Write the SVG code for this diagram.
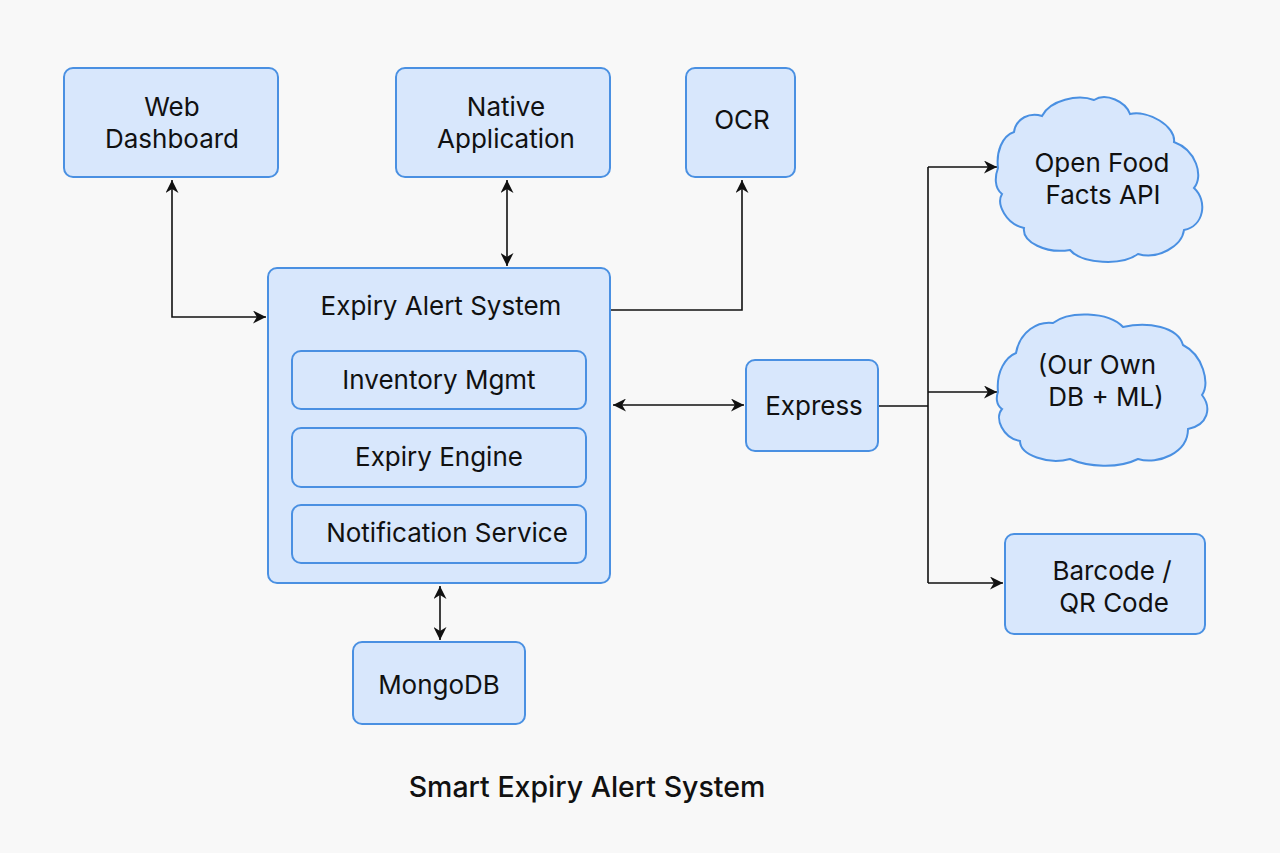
<svg xmlns="http://www.w3.org/2000/svg" width="1280" height="853" viewBox="0 0 1280 853">
<defs>
<style>
.box{fill:#d8e7fc;stroke:#4a90e2;stroke-width:2}
.t{font-family:Inter,"Noto Sans","DejaVu Sans",sans-serif;font-size:26px;fill:#111;text-anchor:middle}
.c{fill:none;stroke:#111;stroke-width:1.6}
</style>
<marker id="ah" viewBox="0 0 10 10" refX="10" refY="5" markerWidth="13" markerHeight="13" markerUnits="userSpaceOnUse" orient="auto-start-reverse">
<path d="M0,0 L10,5 L0,10 L3,5 Z" fill="#111"/>
</marker>
</defs>
<rect width="1280" height="853" fill="#f8f8f8"/>

<g id="connectors">
<path class="c" d="M172,180 V317 H266" marker-start="url(#ah)" marker-end="url(#ah)"/>
<path class="c" d="M507,180 V266" marker-start="url(#ah)" marker-end="url(#ah)"/>
<path class="c" d="M611,310 H742 V180" marker-end="url(#ah)"/>
<path class="c" d="M613,405 H744" marker-start="url(#ah)" marker-end="url(#ah)"/>
<path class="c" d="M440,586 V640" marker-start="url(#ah)" marker-end="url(#ah)"/>
<path class="c" d="M879,406 H928"/>
<path class="c" d="M928,167 V583"/>
<path class="c" d="M928,167 H997" marker-end="url(#ah)"/>
<path class="c" d="M928,392 H997" marker-end="url(#ah)"/>
<path class="c" d="M928,583 H1003" marker-end="url(#ah)"/>
</g>

<g id="web-dashboard">
<rect class="box" x="64" y="68" width="214" height="109" rx="9"/>
<text class="t" x="172" y="116">Web</text>
<text class="t" x="172" y="148">Dashboard</text>
</g>
<g id="native-application">
<rect class="box" x="396" y="68" width="214" height="109" rx="9"/>
<text class="t" x="506" y="116">Native</text>
<text class="t" x="506" y="148">Application</text>
</g>
<g id="ocr">
<rect class="box" x="686" y="68" width="109" height="109" rx="9"/>
<text class="t" x="742" y="129">OCR</text>
</g>
<g id="expiry-alert-system">
<rect class="box" x="268" y="268" width="342" height="315" rx="9"/>
<text class="t" x="441" y="315">Expiry Alert System</text>
</g>
<g id="inventory-mgmt">
<rect class="box" x="292" y="351" width="294" height="58" rx="9"/>
<text class="t" x="439" y="389">Inventory Mgmt</text>
</g>
<g id="expiry-engine">
<rect class="box" x="292" y="428" width="294" height="59" rx="9"/>
<text class="t" x="439" y="466">Expiry Engine</text>
</g>
<g id="notification-service">
<rect class="box" x="292" y="505" width="294" height="58" rx="9"/>
<text class="t" x="447" y="542">Notification Service</text>
</g>
<g id="mongodb">
<rect class="box" x="353" y="642" width="172" height="82" rx="9"/>
<text class="t" x="439" y="694">MongoDB</text>
</g>
<g id="express">
<rect class="box" x="746" y="360" width="132" height="91" rx="9"/>
<text class="t" x="814" y="415">Express</text>
</g>
<g id="open-food-facts-api">
<path class="box" transform="translate(998,96)" d="M0,72 C-2,56 4,40 16,36 C18,22 32,16 44,20 C52,4 80,-2 96,4 C108,-4 128,6 132,18 C150,14 178,30 176,46 C198,54 206,80 196,92 C210,105 206,130 186,134 C184,150 160,164 140,158 C124,170 84,168 72,154 C48,158 24,146 26,132 C8,128 -2,108 4,98 C-4,92 -3,80 0,72 Z"/>
<text class="t" x="1102" y="172">Open Food</text>
<text class="t" x="1103" y="204">Facts API</text>
</g>
<g id="our-own-db-ml">
<path class="box" transform="translate(998,313)" d="M0,79 C-2,58 8,44 18,40 C22,18 40,8 55,10 C70,-2 110,-2 125,14 C150,8 180,14 185,32 C205,42 212,70 204,82 C214,95 210,112 190,116 C190,140 160,152 140,146 C120,156 90,154 72,146 C50,152 22,142 22,128 C5,125 -4,105 4,96 C-2,92 -2,84 0,79 Z"/>
<text class="t" x="1097" y="374">(Our Own</text>
<text class="t" x="1106" y="406">DB + ML)</text>
</g>
<g id="barcode-qr-code">
<rect class="box" x="1005" y="534" width="200" height="100" rx="9"/>
<text class="t" x="1112" y="580">Barcode /</text>
<text class="t" x="1114" y="612">QR Code</text>
</g>
<text class="t" x="587" y="797" style="font-size:28.5px;font-weight:500">Smart Expiry Alert System</text>
</svg>
